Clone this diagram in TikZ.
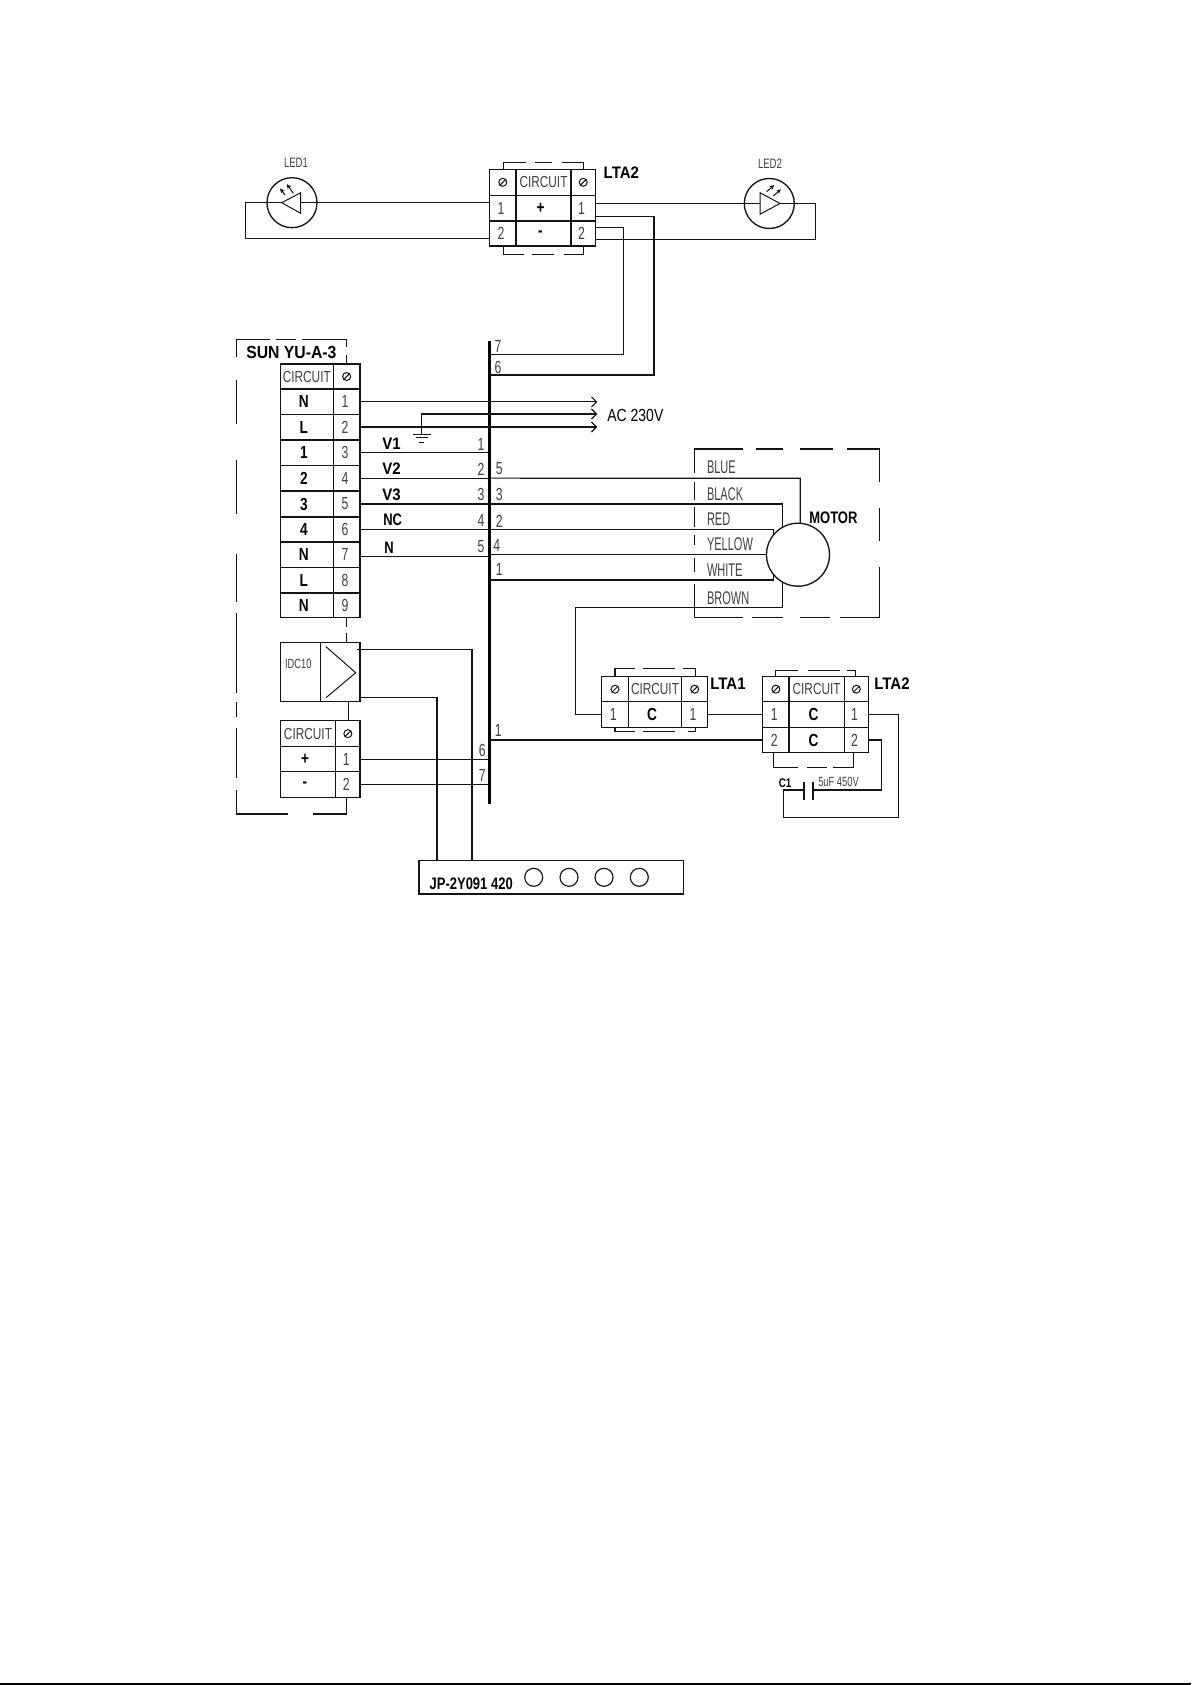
\documentclass[tikz,border=0pt]{standalone}
\usepackage{fontspec}
\setmainfont{Liberation Sans}
\newfontfamily\cad[FakeStretch=0.7]{Liberation Sans}
\newfontfamily\cadc[FakeStretch=0.8]{Liberation Sans}
\newfontfamily\cadt[FakeStretch=0.74]{Liberation Sans}
\newfontfamily\cadn[FakeStretch=0.6]{Liberation Sans}
\newfontfamily\cadb[FakeStretch=0.9]{Liberation Sans}
\newfontfamily\cadm[FakeStretch=0.78]{Liberation Sans}
\usetikzlibrary{arrows.meta,backgrounds,calc}
\definecolor{ink}{gray}{0.08}
\definecolor{thintext}{gray}{0.25}
\newcommand{\cct}{\raisebox{-0.8pt}{CIRCUIT}}
\tikzset{
  wire/.style={draw=ink,line width=0.7pt},
  gridcell/.style={draw=ink,line width=0.8pt,inner sep=0pt,outer sep=0pt,text=thintext,font=\cad\fontsize{10.5}{11}\selectfont,execute at end node={\hspace{2pt}}},
  circuit/.style={font=\cadt\fontsize{9.6}{10}\selectfont,execute at end node={\hspace{-2pt}}},
  heavy/.style={text=black,font=\cadm\bfseries\fontsize{10.5}{11}\selectfont,execute at end node={\hspace{1.6pt}}},
  lbl/.style={inner sep=0pt,text=thintext,font=\cad\fontsize{10.5}{11}\selectfont},
  colorlbl/.style={inner sep=0pt,anchor=west,text=thintext,font=\cadn\fontsize{11}{12}\selectfont},
  boldlbl/.style={inner sep=0pt,text=black,font=\cadb\bfseries\fontsize{10}{11}\selectfont},
  narrowbold/.style={boldlbl,font=\cadm\bfseries\fontsize{10}{11}\selectfont},
  bracket/.style={draw=ink,line width=0.7pt},
  symb/.style={draw=ink,line width=0.6pt},
  led/.style={circle,draw=ink,line width=0.8pt,minimum size=30pt,inner sep=0pt,outer sep=0pt},
  lamp/.style={circle,draw=ink,line width=0.7pt,minimum size=10.8pt,inner sep=0pt},
  ray/.style={symb,-{Stealth[length=3pt,width=2.6pt]}},
  feed/.style={wire,-{Straight Barb[length=3pt,width=6pt]}},
  plate/.style={draw=ink,line width=1.4pt}
}
\newcommand{\gcell}[7][]{%
  \pgfmathsetmacro\cw{(#5-#3)*0.6}\pgfmathsetmacro\ch{(#6-#4)*0.6}%
  \node[gridcell,#1,minimum width=\cw pt,minimum height=\ch pt] (#2) at ({(#3+#5)/2},{(#4+#6)/2}) {#7};}
\newcommand{\screwmark}[1]{%
  \draw[symb] (#1.center) circle [radius=2.4pt];
  \draw[symb] ([shift={(-1.9pt,-1.9pt)}]#1.center) -- ([shift={(1.9pt,1.9pt)}]#1.center);}
\begin{document}
\begin{tikzpicture}[x=0.6pt,y=-0.6pt]
\useasboundingbox (0,0) rectangle (1191,1685);
\begin{scope}[on background layer]
\fill[white] (0,0) rectangle (1191,1685);
\fill[black] (0,1683) rectangle (1191,1685);
\end{scope}

% ---- top terminal block LTA2
\gcell{tsl}{489.6}{169.3}{516}{195.3}{}
\gcell[circuit]{tc}{516}{169.3}{571}{195.3}{\cct}
\gcell{tsr}{571}{169.3}{595.5}{195.3}{}
\gcell{tl1}{489.6}{195.3}{516}{221}{1}
\gcell[heavy]{tp}{516}{195.3}{571}{221}{+}
\gcell{tr1}{571}{195.3}{595.5}{221}{1}
\gcell{tl2}{489.6}{221}{516}{246}{2}
\gcell[heavy]{tm}{516}{221}{571}{246}{-}
\gcell{tr2}{571}{221}{595.5}{246}{2}
\screwmark{tsl}\screwmark{tsr}
\draw[bracket] (503.8,169.3)--(503.8,162.7)--(526,162.7) (535,162.7)--(552,162.7) (562,162.7)--(583.6,162.7)--(583.6,169.3);
\draw[bracket] (503.8,246)--(503.8,254.3)--(524,254.3) (532,254.3)--(554,254.3) (564,254.3)--(583.6,254.3)--(583.6,246);
\node[boldlbl,anchor=west] (tlabel) at (603.4,172.3) {LTA2};

% ---- LEDs
\node[led] (led1) at (292,202.7) {};
\node[led] (led2) at (769.3,203.5) {};
\node[lbl,font=\cad\fontsize{8.2}{9}\selectfont] (led1t) at (296,162.7) {LED1};
\node[lbl,font=\cad\fontsize{8.2}{9}\selectfont] (led2t) at (770,163.3) {LED2};
\coordinate (l1tip) at (281.7,202.7);
\coordinate (l1base) at (300.7,202.7);
\coordinate (l2tip) at (780,203.5);
\coordinate (l2base) at (760,203.5);
\draw[symb] (l1tip) -- (300.7,192.7) -- (300.7,213.3) -- cycle;
\draw[symb] (l2tip) -- (760,192.7) -- (760,214.3) -- cycle;
\draw[wire] (led1.west) -- (l1tip) (l1base) -- (led1.east);
\draw[wire] (led2.west) -- (l2base) (l2tip) -- (led2.east);
\draw[ray] (285,195) -- (280,188.3);
\draw[ray] (293.3,193.3) -- (286.7,184);
\draw[ray] (766.7,191.7) -- (774.3,185);
\draw[ray] (773.3,196) -- (781,189.3);

% ---- bus
\node[fill=black,inner sep=0pt,outer sep=0pt,minimum width=1.8pt,minimum height=277.8pt] (bus) at (489.8,572.5) {};

% ---- LED wiring
\coordinate (wlL) at (245.3,202.7);
\coordinate (wlLb) at (245.3,238.3);
\coordinate (wlR) at (815.3,203.7);
\coordinate (wlRb) at (815.3,239.3);
\draw[wire] (led1.east) -- (tl1.west |- led1.east);
\draw[wire] (led1.west) -- (wlL) -- (wlLb) -- (wlLb -| tl2.west);
\draw[wire] (tr1.east |- wlR) -- (led2.west |- wlR);
\draw[wire] (led2.east |- wlR) -- (wlR) -- (wlRb) -- (wlRb -| tr2.east);
\coordinate (w6a) at (595.5,216.7);
\coordinate (w6b) at (654,375);
\coordinate (w7a) at (595.5,227.7);
\coordinate (w7b) at (623.6,354.7);
\draw[wire] (w6a) -| (w6b) -- (w6b -| bus.east);
\draw[wire] (w7a) -| (w7b) -- (w7b -| bus.east);
\node[lbl] (n7t) at (498,346.7) {7};
\node[lbl] (n6t) at (498,367.7) {6};

% ---- SUN YU table
\gcell[circuit]{sc}{280.3}{364}{333.3}{389}{\cct}
\gcell{ss}{333.3}{364}{360}{389}{}
\screwmark{ss}
\gcell[heavy]{a1}{280.3}{389}{333.3}{414.7}{N}
\gcell{n1}{333.3}{389}{360}{414.7}{1}
\gcell[heavy]{a2}{280.3}{414.7}{333.3}{440}{L}
\gcell{n2}{333.3}{414.7}{360}{440}{2}
\gcell[heavy]{a3}{280.3}{440}{333.3}{465.3}{1}
\gcell{n3}{333.3}{440}{360}{465.3}{3}
\gcell[heavy]{a4}{280.3}{465.3}{333.3}{491}{2}
\gcell{n4}{333.3}{465.3}{360}{491}{4}
\gcell[heavy]{a5}{280.3}{491}{333.3}{517}{3}
\gcell{n5}{333.3}{491}{360}{517}{5}
\gcell[heavy]{a6}{280.3}{517}{333.3}{542}{4}
\gcell{n6}{333.3}{517}{360}{542}{6}
\gcell[heavy]{a7}{280.3}{542}{333.3}{567.3}{N}
\gcell{n7}{333.3}{542}{360}{567.3}{7}
\gcell[heavy]{a8}{280.3}{567.3}{333.3}{593}{L}
\gcell{n8}{333.3}{567.3}{360}{593}{8}
\gcell[heavy]{a9}{280.3}{593}{333.3}{617.7}{N}
\gcell{n9}{333.3}{593}{360}{617.7}{9}

% ---- dashed enclosure
\draw[bracket] (236.7,357)--(236.7,339.3)--(270,339.3) (276,339.3)--(296,339.3) (301.7,339.3)--(346.7,339.3)--(346.7,347) (346.7,355)--(346.7,364);
\draw[bracket] (236.7,380)--(236.7,424) (236.7,460)--(236.7,514) (236.7,554)--(236.7,601.7) (236.7,613)--(236.7,692.5) (236.7,702)--(236.7,717) (236.7,728)--(236.7,778) (236.7,790)--(236.7,814)--(287.7,814) (313.3,814)--(346.7,814)--(346.7,797.3);
\draw[bracket] (346.7,617.7)--(346.7,627) (346.7,633)--(346.7,642.7);
\node[boldlbl,anchor=west,font=\cadb\bfseries\fontsize{10.5}{11}\selectfont] (suntitle) at (246,352.5) {SUN YU-A-3};

% ---- IDC10 and lower table
\gcell{idl}{280.3}{642.7}{320.3}{701.7}{}
\gcell{idr}{320.3}{642.7}{360}{701.7}{}
\node[lbl,font=\cad\fontsize{8}{9}\selectfont] (idct) at (298.3,664) {IDC10};
\draw[symb] (326,646.7) -- (355.7,672.7) -- (326,697.7);
\gcell[circuit]{dc}{280.3}{720.7}{335.7}{746.7}{\cct}
\gcell{ds}{335.7}{720.7}{360}{746.7}{}
\screwmark{ds}
\gcell[heavy]{dp}{280.3}{746.7}{335.7}{771.7}{+}
\gcell{d1}{335.7}{746.7}{360}{771.7}{1}
\gcell[heavy]{dm}{280.3}{771.7}{335.7}{797.3}{-}
\gcell{d2}{335.7}{771.7}{360}{797.3}{2}
\draw[wire] (348.7,701.7) -- (348.7,720.7);

% ---- feed and control wires
\coordinate (acA) at (597.3,401.7);
\coordinate (acB) at (597.3,414);
\coordinate (acC) at (597.3,427);
\coordinate (gnd) at (421.7,434);
\draw[feed] (n1.east) -- (n1.east -| acA);
\draw[feed] (n2.east |- acC) -- (acC);
\draw[feed] (gnd) |- (acB);
\draw[symb] (412.7,434) -- (430.7,434) (415.5,437.7) -- (427.9,437.7) (419,442) -- (424.3,442);
\node[lbl,anchor=west,text=black,font=\cadc\fontsize{10.5}{11}\selectfont] (act) at (607,415) {AC 230V};
\coordinate (n7w) at (360,556.3);
\draw[wire] (n3.east) -- (n3.east -| bus.west);
\draw[wire] (n4.east) -- (n4.east -| bus.west);
\draw[wire] (n5.east) -- (n5.east -| bus.west);
\draw[wire] (n6.east) -- (n6.east -| bus.west);
\draw[wire] (n7w) -- (n7w -| bus.west);
\node[boldlbl,anchor=west] (v1) at (382,444) {V1};
\node[boldlbl,anchor=west] (v2) at (382,469) {V2};
\node[boldlbl,anchor=west] (v3) at (382,495) {V3};
\node[narrowbold,anchor=west] (nc) at (383,519.3) {NC};
\node[narrowbold,anchor=west] (nn) at (384,547.7) {N};
\foreach \t/\y in {1/444.3,2/469,3/494,4/520,5/546.7}{\node[lbl] (bl\t) at (481,\y) {\t};}
\node[lbl] (br5) at (499.3,468.3) {5};
\node[lbl] (br3) at (499.3,494) {3};
\node[lbl] (br2) at (499.3,521.7) {2};
\node[lbl] (br4) at (496.7,545) {4};
\node[lbl] (br1) at (499.3,569) {1};
\draw[wire] (d1.east) -- (d1.east -| bus.west);
\draw[wire] (d2.east) -- (d2.east -| bus.west);
\node[lbl] (bd6) at (482.3,750.7) {6};
\node[lbl] (bd7) at (482.3,775) {7};
\node[lbl] (bd1) at (498.3,730) {1};

% ---- JP box
\node[draw=ink,line width=0.8pt,inner sep=0pt,outer sep=0pt,minimum width=158.6pt,minimum height=20.2pt] (jp) at (551.2,877.2) {};
\node[narrowbold,anchor=west] (jpt) at (429.3,883.3) {JP-2Y091 420};
\node[lamp] (j1) at (533.7,877.3) {};
\node[lamp] (j2) at (569,877.3) {};
\node[lamp] (j3) at (604,877.3) {};
\node[lamp] (j4) at (639.3,877.3) {};
\coordinate (idA) at (357.3,649.3);
\coordinate (idB) at (360,697.3);
\coordinate (jpA) at (472,860.3);
\coordinate (jpB) at (437,860.3);
\draw[wire] (idA) -| (jpA);
\draw[wire] (idB) -| (jpB);

% ---- motor
\node[circle,draw=ink,fill=white,line width=0.8pt,minimum size=37.8pt,inner sep=0pt,outer sep=0pt] (motor) at (798,554.7) {};
\node[narrowbold,anchor=west] (motort) at (809,517.3) {MOTOR};
\draw[bracket] (694.3,473.3)--(694.3,449)--(743.3,449) (756,449)--(783.3,449) (800,449)--(833.3,449) (846.7,449)--(879.3,449)--(879.3,482.3) (879.3,508.3)--(879.3,541) (879.3,566.7)--(879.3,617.3)--(840,617.3) (830,617.3)--(800,617.3) (783.3,617.3)--(751.7,617.3) (743.3,617.3)--(694.3,617.3)--(694.3,584) (694.3,571.7)--(694.3,558.3) (694.3,545)--(694.3,535) (694.3,526.7)--(694.3,507.3) (694.3,500)--(694.3,481.7);
\node[colorlbl] (cblue) at (706.7,467.7) {BLUE};
\node[colorlbl] (cblack) at (706.7,494) {BLACK};
\node[colorlbl] (cred) at (706.7,519.3) {RED};
\node[colorlbl] (cyel) at (706.7,544) {YELLOW};
\node[colorlbl] (cwhi) at (706.7,570) {WHITE};
\node[colorlbl] (cbro) at (706.7,597.7) {BROWN};

% ---- LTA1 and second LTA2
\gcell{usl}{601.7}{676.7}{628.3}{701.7}{}
\gcell[circuit]{uc}{628.3}{676.7}{681.7}{701.7}{\cct}
\gcell{usr}{681.7}{676.7}{707.7}{701.7}{}
\screwmark{usl}\screwmark{usr}
\gcell{ul1}{601.7}{701.7}{628.3}{727.3}{1}
\gcell[heavy]{uC}{628.3}{701.7}{681.7}{727.3}{C}
\gcell{ur1}{681.7}{701.7}{707.7}{727.3}{1}
\draw[bracket] (615,676.7)--(615,668.3)--(635,668.3) (643.3,668.3)--(675,668.3) (683,668.3)--(695.7,668.3)--(695.7,676.7);
\draw[bracket] (615,727.3)--(615,731.7)--(635,731.7) (643.3,731.7)--(675,731.7) (688,731.7)--(695.7,731.7)--(695.7,727.3);
\node[boldlbl,anchor=west] (uname) at (710,684) {LTA1};

\gcell{vsl}{762.7}{676.7}{789}{701.7}{}
\gcell[circuit]{vc}{789}{676.7}{844.3}{701.7}{\cct}
\gcell{vsr}{844.3}{676.7}{868.3}{701.7}{}
\screwmark{vsl}\screwmark{vsr}
\gcell{vl1}{762.7}{701.7}{789}{727.3}{1}
\gcell[heavy]{vC1}{789}{701.7}{844.3}{727.3}{C}
\gcell{vr1}{844.3}{701.7}{868.3}{727.3}{1}
\gcell{vl2}{762.7}{727.3}{789}{752.7}{2}
\gcell[heavy]{vC2}{789}{727.3}{844.3}{752.7}{C}
\gcell{vr2}{844.3}{727.3}{868.3}{752.7}{2}
\draw[bracket] (775.7,676.7)--(775.7,670.7)--(798,670.7) (808,670.7)--(840,670.7) (847,670.7)--(855.7,670.7)--(855.7,676.7);
\draw[bracket] (773.3,752.7)--(773.3,767.3)--(798,767.3) (807,767.3)--(827,767.3) (833,767.3)--(853.3,767.3)--(853.3,752.7);
\node[boldlbl,anchor=west] (vname) at (874,683.3) {LTA2};

% ---- motor wiring (behind the motor circle)
\coordinate (wBlue) at (800.3,478.3);
\coordinate (wBlack) at (782.3,504);
\coordinate (wBrown) at (782.3,607.7);
\coordinate (wBrownL) at (575.7,607.7);
\coordinate (wRed) at (773.7,529.3);
\coordinate (wWhite) at (773.7,580);
\begin{scope}[on background layer]
\draw[wire] (bus.east |- n4.east) -- (wBlue) -- (motor.center -| wBlue);
\draw[wire] (bus.east |- n5.east) -- (wBlack) -- (wBrown) -- (wBrownL) |- (ul1.west);
\draw[wire] (bus.east |- wRed) -- (wRed) -- (motor.center -| wRed);
\draw[wire] (bus.east |- motor.west) -- (motor.west);
\draw[wire] (bus.east |- wWhite) -- (wWhite) -- (motor.center -| wWhite);
\end{scope}
\draw[wire] (ur1.east) -- (vl1.west |- ur1.east);
\draw[wire] (bus.east |- vl2.west) -- (vl2.west);

% ---- capacitor
\coordinate (cpa) at (804.3,790);
\coordinate (cpb) at (813.3,790);
\coordinate (cR1) at (898.3,714.5);
\coordinate (cR1b) at (898.3,817.3);
\coordinate (cL) at (783.3,817.3);
\coordinate (cL2) at (783.3,790);
\coordinate (cR2) at (881.7,740);
\draw[wire] (vr1.east) -- (cR1) -- (cR1b) -- (cL) -- (cL2) -- (cpa);
\draw[wire] (vr2.east) -- (cR2) |- (cpb);
\draw[plate] (804.3,781.7) -- (804.3,800);
\draw[plate] (813.3,781.7) -- (813.3,800);
\node[boldlbl,font=\cadm\bfseries\fontsize{7.5}{9}\selectfont] (c1t) at (785,782.7) {C1};
\node[lbl,font=\cad\fontsize{8}{9}\selectfont] (cvt) at (838.5,781.7) {5uF 450V};
\end{tikzpicture}
\end{document}
